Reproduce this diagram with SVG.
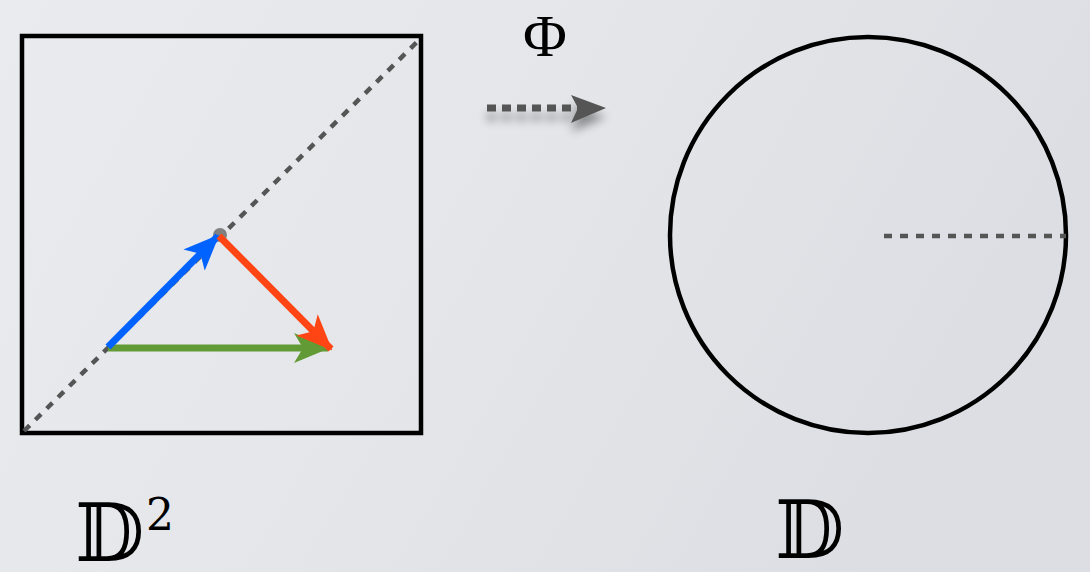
<svg xmlns="http://www.w3.org/2000/svg" width="1090" height="572" viewBox="0 0 1090 572">
<defs>
<linearGradient id="bg" x1="0" y1="0" x2="1" y2="0.3">
<stop offset="0" stop-color="#e9ebef"/>
<stop offset="0.5" stop-color="#e4e6ea"/>
<stop offset="1" stop-color="#dcdee3"/>
</linearGradient>
<filter id="sh" x="-20%" y="-80%" width="140%" height="360%">
<feGaussianBlur in="SourceAlpha" stdDeviation="5"/>
<feOffset dx="0" dy="9" result="b"/>
<feComponentTransfer><feFuncA type="linear" slope="0.4"/></feComponentTransfer>
<feMerge><feMergeNode/><feMergeNode in="SourceGraphic"/></feMerge>
</filter>
<marker id="hb" viewBox="0 0 36 30" refX="34" refY="15" markerWidth="36" markerHeight="30" markerUnits="userSpaceOnUse" orient="auto"><path d="M0,0 L36,15 L0,30 L9,15 Z" fill="#0062ff"/></marker>
<marker id="hg" viewBox="0 0 36 30" refX="34" refY="15" markerWidth="36" markerHeight="30" markerUnits="userSpaceOnUse" orient="auto"><path d="M0,0 L36,15 L0,30 L9,15 Z" fill="#629a35"/></marker>
<marker id="hr" viewBox="0 0 36 30" refX="34" refY="15" markerWidth="36" markerHeight="30" markerUnits="userSpaceOnUse" orient="auto"><path d="M0,0 L36,15 L0,30 L9,15 Z" fill="#ff4513"/></marker>
</defs>
<style>
.outline{fill:none;stroke:#000;stroke-width:4.5}
.dash{fill:none;stroke:#555;stroke-width:4.5;stroke-dasharray:8 8}
.vec{fill:none;stroke-width:7}
.math{font-family:"DejaVu Serif","Liberation Serif",serif;fill:#000}
</style>
<rect width="1090" height="572" fill="url(#bg)"/>
<g id="square">
<rect class="outline" x="22" y="36" width="399" height="397"/>
<line class="dash" x1="24" y1="431" x2="421" y2="38"/>
<circle cx="220" cy="235" r="7" fill="#808080"/>
</g>
<g id="disk">
<circle class="outline" cx="868" cy="235" r="198"/>
<line class="dash" x1="884" y1="236" x2="1066" y2="236"/>
</g>
<g id="connectors">
<line class="vec" x1="108" y1="348" x2="328" y2="348" stroke="#629a35" marker-end="url(#hg)"/>
<line class="vec" x1="108" y1="347" x2="218" y2="236" stroke="#0062ff" marker-end="url(#hb)"/>
<line class="vec" x1="219" y1="236" x2="331" y2="349" stroke="#ff4513" marker-end="url(#hr)"/>
<g filter="url(#sh)">
<line x1="487" y1="108" x2="580" y2="108" stroke="#555" stroke-width="7" stroke-dasharray="9 6"/>
<path d="M571,95 L606,108 L571,123 L578,108 Z" fill="#555"/>
</g>
</g>
<g id="labels">
<text x="545" y="56" font-size="60" text-anchor="middle" font-family="'Liberation Serif','DejaVu Serif',serif" fill="#000">Φ</text>
<text class="math" x="75" y="561" font-size="80">𝔻</text>
<text class="math" x="146" y="530" font-size="44">2</text>
<text class="math" x="775" y="558" font-size="80">𝔻</text>
</g>
</svg>
